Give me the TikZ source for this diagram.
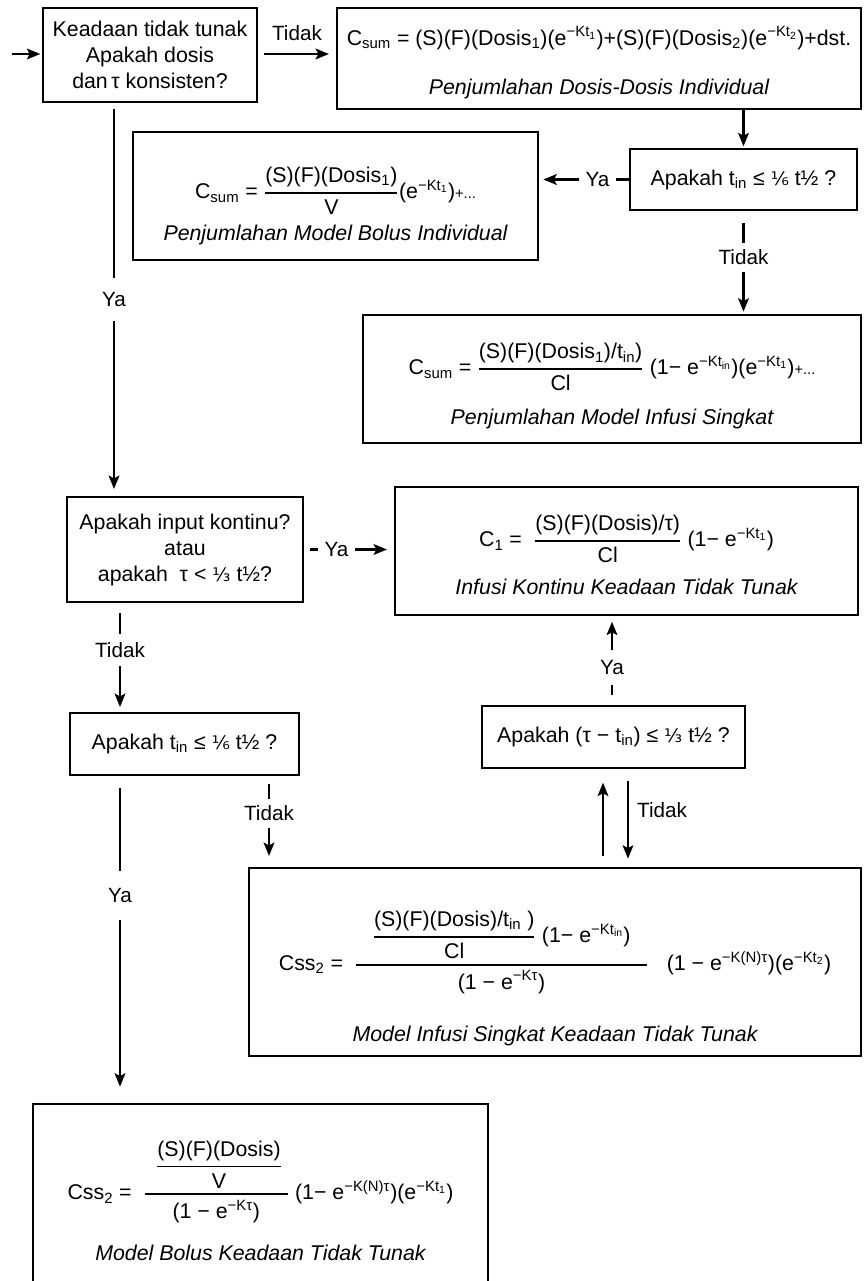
\documentclass[tikz,border=0pt]{standalone}
\usepackage{amsmath}
\usepackage{fontspec}
\setmainfont{Liberation Sans}
\newfontfamily\dvs{DejaVu Sans}
\usetikzlibrary{arrows.meta,calc}

\newcommand\tsb[1]{\textsubscript{#1}}
\newcommand\tsp[1]{\textsuperscript{#1}}
\newcommand\fsix{{\dvs\fontsize{14}{14}\selectfont ⅙}}
\newcommand\fthird{{\dvs\fontsize{14}{14}\selectfont ⅓}}
\newcommand\fr[3][1.3pt]{\ensuremath{\genfrac{}{}{#1}{0}{\mbox{#2}}{\mbox{#3}}}}
\newcommand\two[4][0pt]{\raisebox{#1}[\height][\depth]{\begin{tabular}{@{}c@{}}\smash{#2}\\[#3]#4\end{tabular}}}
\newcommand\sml[1]{{\fontsize{11}{11}\selectfont #1}}

\tikzset{
  bx/.style={draw, line width=2pt, rectangle, inner sep=0pt, align=center,
    font=\fontsize{16}{19.5}\selectfont},
  ln/.style={line width=1.7pt},
  arr/.style={ln, -{Stealth[length=10pt, width=8pt, inset=2pt]}},
  labf/.style={font=\fontsize{15.5}{17}\selectfont},
  lab/.style={labf, fill=white, inner xsep=5pt, inner ysep=6pt},
}

\begin{document}
\begin{tikzpicture}[x=0.75pt, y=-0.75pt]
\useasboundingbox (0,0) rectangle (866,1281);

% boxes
\node[bx, minimum width=160.5pt, minimum height=70.5pt] (A) at (150,55)
  {Keadaan tidak tunak\\Apakah dosis\\dan\,τ konsisten?};
\node[bx, minimum width=393pt, minimum height=75.75pt] (B) at (599,58.5)
  {\two[-4.8pt]{C\tsb{sum} = (S)(F)(Dosis\tsb{1})(e\tsp{−Kt\tsb{1}})+(S)(F)(Dosis\tsb{2})(e\tsp{−Kt\tsb{2}})+dst.}{17.75pt}{\itshape Penjumlahan Dosis-Dosis Individual}};
\node[bx, minimum width=303.75pt, minimum height=96pt] (C) at (335.5,196)
  {\two[-13.7pt]{C\tsb{sum} = \fr{(S)(F)(Dosis\tsb{1})}{V}(e\tsp{−Kt\tsb{1}})\sml{+...}}{11.75pt}{\itshape Penjumlahan Model Bolus Individual}};
\node[bx, minimum width=170.25pt, minimum height=45.75pt] (D) at (743.5,179.5)
  {Apakah t\tsb{in} ≤ \fsix{} t½ ?};
\node[bx, minimum width=373.5pt, minimum height=96pt] (F) at (612,379)
  {\two[-11.6pt]{C\tsb{sum} = \fr{(S)(F)(Dosis\tsb{1})/t\tsb{in})}{Cl} (1− e\tsp{−Kt\tsb{in}})(e\tsp{−Kt\tsb{1}})\sml{+...}}{17.75pt}{\itshape Penjumlahan Model Infusi Singkat}};
\node[bx, minimum width=177pt, minimum height=78.75pt] (E) at (185,549.5)
  {Apakah input kontinu?\\atau\\apakah\ \ τ < \fthird{} t½?};
\node[bx, minimum width=347.25pt, minimum height=96pt] (G) at (626.5,551)
  {\two[-10.8pt]{C\tsb{1} = \ \fr{(S)(F)(Dosis)/τ)}{Cl} (1− e\tsp{−Kt\tsb{1}})}{16.25pt}{\itshape Infusi Kontinu Keadaan Tidak Tunak}};
\node[bx, minimum width=171.75pt, minimum height=46.5pt] (J) at (184.5,744)
  {Apakah t\tsb{in} ≤ \fsix{} t½ ?};
\node[bx, minimum width=197.25pt, minimum height=46.5pt] (H) at (613.5,737)
  {Apakah (τ − t\tsb{in}) ≤ \fthird{} t½ ?};
\node[bx, minimum width=459pt, minimum height=141pt] (I) at (555,962)
  {\two[-28.9pt]{Css\tsb{2} = \ \fr{\hspace{12pt}\fr{(S)(F)(Dosis)/t\tsb{in} )}{Cl} (1− e\tsp{−Kt\tsb{in}})\hspace{12pt}}{(1 − e\tsp{−Kτ})}\hspace{14pt}(1 − e\tsp{−K(N)τ})(e\tsp{−Kt\tsb{2}})}{33.5pt}{\itshape Model Infusi Singkat Keadaan Tidak Tunak}};
\node[bx, minimum width=341.25pt, minimum height=147pt] (K) at (260.5,1202)
  {\two[-17.3pt]{Css\tsb{2} = \ \fr{\hspace{8pt}\fr{(S)(F)(Dosis)}{V}\hspace{4pt}}{(1 − e\tsp{−Kτ})} (1− e\tsp{−K(N)τ})(e\tsp{−Kt\tsb{1}})}{26pt}{\itshape Model Bolus Keadaan Tidak Tunak}};

% helper columns
\coordinate (in) at (12,54);
\coordinate (cl) at (114,0);
\coordinate (cm) at (120,0);
\coordinate (cj) at (269,0);
\coordinate (cu) at (603,0);
\coordinate (cd) at (628,0);
\coordinate (cy) at (612,0);

% connectors
\draw[arr, shorten >=1pt] (in) -- (in -| A.west);
\draw[arr, shorten <=4pt, shorten >=5pt] (A.east |- in) -- (B.west |- in)
  node[midway, above, labf, inner sep=2pt, yshift=7pt] (tAB) {Tidak};
\draw[arr, shorten >=1pt] (B.south -| D.north) -- (D.north);
\draw[arr, shorten >=3pt] (D.west) -- (D.west -| C.east)
  node[lab, pos=0.35] (yDC) {Ya};
\draw[arr, shorten <=9pt, shorten >=1.5pt] (D.south) -- (D.south |- F.north)
  node[lab, pos=0.45, inner ysep=5pt] (tDF) {Tidak};
\draw[arr, shorten <=4pt, shorten >=5pt] (A.south -| cl) -- (E.north -| cl)
  node[lab, midway, inner ysep=11pt] (yAE) {Ya};
\draw[arr, shorten <=4pt, shorten >=5pt] (E.east) -- (E.east -| G.west)
  node[lab, pos=0.36, inner ysep=3pt] (yEG) {Ya};
\draw[arr, shorten <=7.5pt, shorten >=3.5pt] (E.south -| cm) -- (J.north -| cm)
  node[lab, pos=0.43, inner ysep=6.5pt] (tEJ) {Tidak};
\draw[arr, shorten <=9pt, shorten >=12pt] (J.south -| cm) -- (K.north -| cm)
  node[lab, pos=0.365, inner ysep=13pt] (yJK) {Ya};
\draw[arr, shorten <=6pt, shorten >=8pt] (J.south -| cj) -- (I.north -| cj)
  node[lab, pos=0.41, inner ysep=5.2pt] (tJI) {Tidak};
\draw[arr, shorten <=8pt, shorten >=10pt] (I.north -| cu) -- (H.south -| cu);
\draw[arr, shorten <=9pt, shorten >=6pt] (H.south -| cd) -- (I.north -| cd)
  node[pos=0.42, right, labf, inner sep=2pt, xshift=4pt] (tHI) {Tidak};
\draw[arr, shorten <=7pt, shorten >=4pt] (H.north -| cy) -- (G.south -| cy)
  node[lab, pos=0.42, inner ysep=7.8pt] (yHG) {Ya};
\end{tikzpicture}
\end{document}
